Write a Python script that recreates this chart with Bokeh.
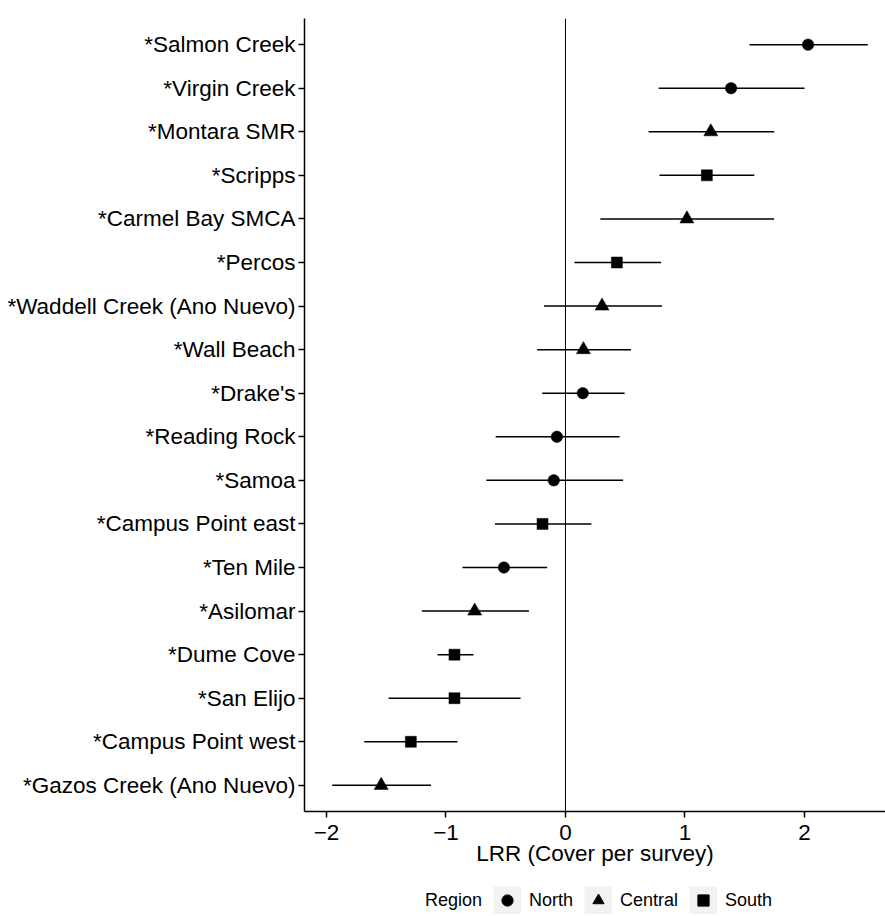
from bokeh.plotting import figure
from bokeh.models import Range1d, FixedTicker, Span, Legend, LegendItem, Title
from bokeh.layouts import column
from bokeh.embed import file_html
from bokeh.resources import INLINE

# ---- data (top row first) ----
sites = ["*Salmon Creek", "*Virgin Creek", "*Montara SMR", "*Scripps", "*Carmel Bay SMCA",
         "*Percos", "*Waddell Creek (Ano Nuevo)", "*Wall Beach", "*Drake's", "*Reading Rock",
         "*Samoa", "*Campus Point east", "*Ten Mile", "*Asilomar", "*Dume Cove", "*San Elijo",
         "*Campus Point west", "*Gazos Creek (Ano Nuevo)"]
region = ["North", "North", "Central", "South", "Central",
          "South", "Central", "Central", "North", "North",
          "North", "South", "North", "Central", "South", "South",
          "South", "Central"]
lrr = [2.03, 1.386, 1.216, 1.183, 1.016,
       0.43, 0.306, 0.15, 0.145, -0.072,
       -0.098, -0.192, -0.515, -0.76, -0.929, -0.929,
       -1.294, -1.542]
lower = [1.54, 0.78, 0.695, 0.787, 0.292,
         0.075, -0.18, -0.237, -0.195, -0.584,
         -0.662, -0.59, -0.862, -1.202, -1.071, -1.48,
         -1.684, -1.952]
upper = [2.53, 2.00, 1.747, 1.58, 1.745,
         0.80, 0.807, 0.548, 0.495, 0.453,
         0.482, 0.217, -0.153, -0.306, -0.77, -0.376,
         -0.904, -1.125]
region_names = ["North", "Central", "South"]
legend_title = "Region"
x_ticks = [-2, -1, 0, 1, 2]
x_tick_labels = ["\u22122", "\u22121", "0", "1", "2"]

# ---- styles ----
marker_for = {"North": ("circle", 11.5), "Central": ("triangle", 14), "South": ("square", 11)}
FONT = "Liberation Sans"

n = len(sites)
ypos = [n - i for i in range(n)]
nan = float("nan")

p = figure(width=885, height=880,
           x_range=Range1d(-2.184, 2.678), y_range=Range1d(0.4, n + 0.6),
           output_backend="svg", toolbar_location=None,
           min_border_left=304, min_border_right=0, min_border_top=18, min_border_bottom=69)

p.xgrid.visible = False
p.ygrid.visible = False
p.outline_line_color = None
p.background_fill_color = "white"

for ax in (p.xaxis[0], p.yaxis[0]):
    ax.axis_line_color = "black"
    ax.axis_line_width = 1.5
    ax.major_tick_line_color = "black"
    ax.major_tick_line_width = 1.5
    ax.major_tick_out = 6
    ax.major_tick_in = 0
    ax.minor_tick_line_color = None
    ax.major_label_text_font = FONT
    ax.major_label_text_font_size = "22.5px"
    ax.major_label_text_color = "black"

p.xaxis[0].ticker = FixedTicker(ticks=x_ticks)
p.xaxis[0].major_label_overrides = {t: l for t, l in zip(x_ticks, x_tick_labels)}
p.xaxis[0].major_label_standoff = 7

p.yaxis[0].ticker = FixedTicker(ticks=ypos)
p.yaxis[0].major_label_overrides = {y: s for y, s in zip(ypos, sites)}
p.yaxis[0].major_label_standoff = 3

p.add_layout(Span(location=0, dimension="height", line_color="black", line_width=1))

p.segment(x0=lower, y0=ypos, x1=upper, y1=ypos, line_color="black", line_width=1.5)

for reg in region_names:
    idx = [i for i in range(n) if region[i] == reg]
    mk, sz = marker_for[reg]
    p.scatter(x=[lrr[i] for i in idx], y=[ypos[i] for i in idx],
              marker=mk, size=sz, fill_color="black", line_color="black", line_width=0.5)

xlab = Title(text="LRR (Cover per survey)", align="center",
             text_font=FONT, text_font_size="22.5px", text_font_style="normal",
             text_color="black")
try:
    xlab.standoff = -8
except Exception:
    xlab.standoff = 0
p.add_layout(xlab, "below")

# ---- legend strip (separate figure below the plot) ----
q = figure(width=885, height=36, x_range=Range1d(0, 1), y_range=Range1d(0, 1),
           output_backend="svg", toolbar_location=None, min_border=0)
q.axis.visible = False
q.xgrid.visible = False
q.ygrid.visible = False
q.outline_line_color = None

blank = q.line(x=[nan], y=[nan], line_alpha=0)
key_bg = q.line(x=[nan], y=[nan], line_width=28, line_color="#F2F2F2", line_cap="butt")
items = [LegendItem(label=legend_title, renderers=[blank])]
for reg in region_names:
    mk, sz = marker_for[reg]
    r = q.scatter(x=[nan], y=[nan], marker=mk, size=sz, fill_color="black", line_color="black")
    items.append(LegendItem(label=reg, renderers=[key_bg, r]))
legend = Legend(items=items, orientation="horizontal", location=(85, 2),
                label_text_font=FONT, label_text_font_size="18px", label_text_color="black",
                glyph_width=28, glyph_height=28, label_height=28,
                label_standoff=8, spacing=11, padding=0, margin=0,
                border_line_alpha=0, background_fill_alpha=0)
q.add_layout(legend, "center")

layout = column(p, q, spacing=0)
open("out.html", "w").write(file_html(layout, INLINE))
